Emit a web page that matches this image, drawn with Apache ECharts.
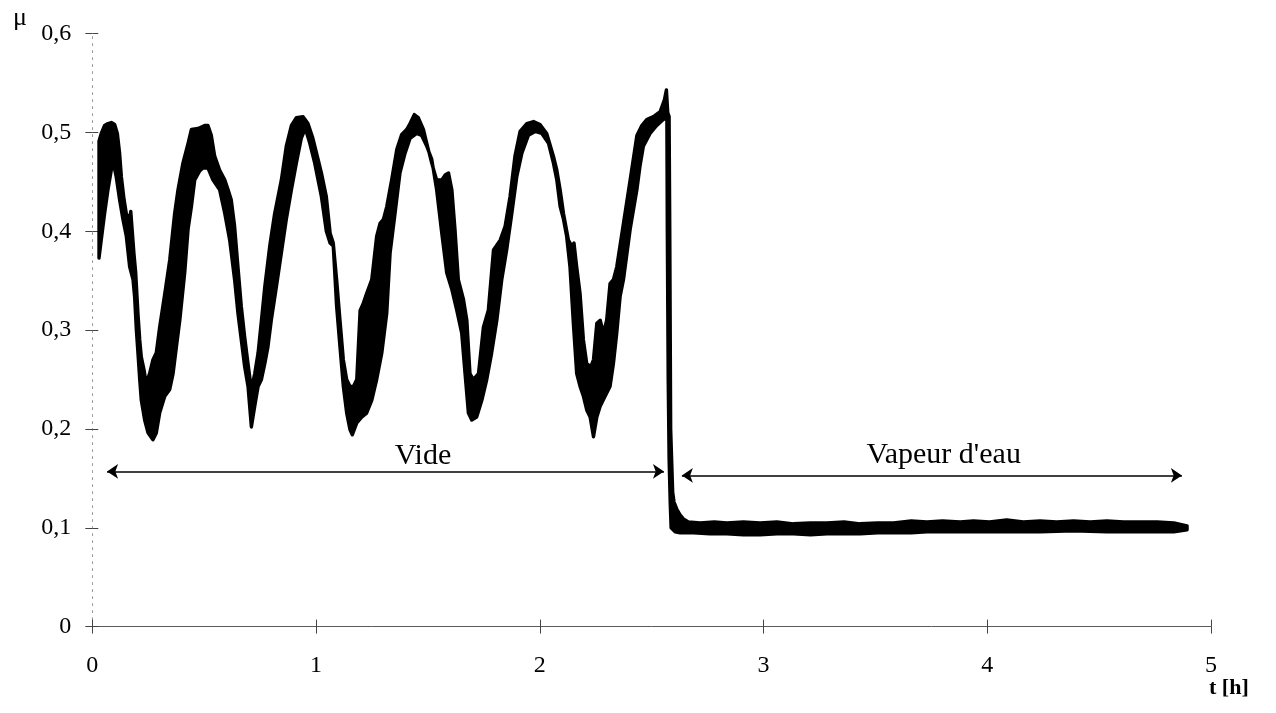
<!DOCTYPE html>
<html>
<head>
<meta charset="utf-8">
<script src="https://cdn.jsdelivr.net/npm/echarts@6/dist/echarts.min.js"></script>
<style>
html,body{margin:0;padding:0;background:#fff;}
#chart{width:1276px;height:713px;}
</style>
</head>
<body>
<div id="chart"></div>
<script>
// x ticks (hours) and y ticks (friction coefficient)
const xTickLabels = ['0', '1', '2', '3', '4', '5'];
const yTickLabels = ['0', '0,1', '0,2', '0,3', '0,4', '0,5', '0,6'];

// Upper outline of the noisy friction band [t (h), mu]
const upperEdge = [
[0.030,0.491],[0.040,0.499],[0.055,0.507],[0.070,0.509],[0.085,0.510],[0.100,0.508],[0.112,0.499],[0.122,0.479],
[0.130,0.455],[0.142,0.432],[0.152,0.418],[0.167,0.412],[0.172,0.420],[0.177,0.405],[0.186,0.378],[0.194,0.358],
[0.204,0.317],[0.212,0.290],[0.219,0.273],[0.231,0.260],[0.241,0.246],[0.256,0.256],[0.271,0.270],[0.286,0.277],
[0.301,0.303],[0.324,0.337],[0.346,0.371],[0.368,0.418],[0.383,0.442],[0.405,0.469],[0.428,0.489],[0.443,0.503],
[0.473,0.504],[0.502,0.507],[0.517,0.507],[0.532,0.497],[0.547,0.476],[0.569,0.462],[0.592,0.452],[0.607,0.442],
[0.621,0.432],[0.636,0.405],[0.651,0.364],[0.666,0.324],[0.681,0.293],[0.696,0.266],[0.711,0.240],[0.726,0.256],
[0.741,0.277],[0.756,0.310],[0.771,0.344],[0.793,0.385],[0.815,0.418],[0.845,0.452],[0.867,0.486],[0.890,0.507],
[0.912,0.515],[0.942,0.516],[0.964,0.509],[0.986,0.494],[1.009,0.473],[1.024,0.459],[1.046,0.435],[1.063,0.398],
[1.077,0.388],[1.092,0.351],[1.107,0.310],[1.122,0.270],[1.137,0.250],[1.152,0.243],[1.167,0.243],[1.182,0.250],
[1.197,0.320],[1.211,0.327],[1.226,0.337],[1.249,0.351],[1.271,0.395],[1.286,0.408],[1.301,0.412],[1.316,0.425],
[1.338,0.452],[1.361,0.483],[1.383,0.498],[1.405,0.503],[1.420,0.509],[1.439,0.518],[1.457,0.515],[1.480,0.503],
[1.495,0.489],[1.517,0.469],[1.539,0.452],[1.562,0.452],[1.577,0.457],[1.592,0.459],[1.607,0.442],[1.621,0.402],
[1.636,0.351],[1.659,0.331],[1.674,0.310],[1.688,0.256],[1.703,0.250],[1.726,0.256],[1.748,0.303],[1.770,0.320],
[1.793,0.381],[1.823,0.391],[1.845,0.405],[1.867,0.435],[1.889,0.476],[1.912,0.501],[1.942,0.509],[1.972,0.511],
[2.001,0.508],[2.031,0.499],[2.061,0.476],[2.076,0.462],[2.091,0.442],[2.106,0.418],[2.128,0.391],[2.143,0.385],
[2.153,0.388],[2.165,0.364],[2.180,0.337],[2.195,0.290],[2.210,0.266],[2.228,0.263],[2.240,0.270],[2.255,0.307],
[2.270,0.310],[2.285,0.297],[2.299,0.310],[2.314,0.347],[2.329,0.351],[2.344,0.364],[2.374,0.408],[2.404,0.452],
[2.434,0.497],[2.456,0.507],[2.478,0.513],[2.508,0.516],[2.538,0.521],[2.557,0.533],[2.566,0.543],[2.572,0.520],
[2.578,0.516],[2.581,0.400],[2.585,0.200],[2.594,0.136],[2.600,0.126],[2.612,0.119],[2.627,0.113],[2.642,0.109],
[2.664,0.106],[2.717,0.105],[2.780,0.106],[2.836,0.105],[2.910,0.106],[2.985,0.105],[3.060,0.106],[3.134,0.104],
[3.210,0.105],[3.284,0.105],[3.360,0.106],[3.432,0.104],[3.510,0.105],[3.581,0.105],[3.660,0.107],[3.730,0.106],
[3.800,0.107],[3.879,0.106],[3.938,0.107],[4.010,0.106],[4.087,0.108],[4.161,0.106],[4.236,0.107],[4.310,0.106],
[4.386,0.107],[4.460,0.106],[4.535,0.107],[4.610,0.106],[4.684,0.106],[4.760,0.106],[4.834,0.105],[4.893,0.102]
];

// Lower outline of the noisy friction band [t (h), mu]
const lowerEdge = [
[0.030,0.373],[0.040,0.391],[0.055,0.418],[0.070,0.442],[0.085,0.462],[0.096,0.467],[0.107,0.455],[0.122,0.432],
[0.137,0.412],[0.152,0.395],[0.167,0.364],[0.182,0.351],[0.189,0.334],[0.197,0.300],[0.204,0.277],[0.212,0.250],
[0.219,0.229],[0.234,0.209],[0.249,0.196],[0.271,0.189],[0.286,0.196],[0.301,0.216],[0.324,0.233],[0.346,0.240],
[0.361,0.256],[0.376,0.283],[0.391,0.310],[0.413,0.358],[0.428,0.402],[0.443,0.425],[0.458,0.452],[0.480,0.461],
[0.495,0.464],[0.517,0.464],[0.539,0.452],[0.569,0.442],[0.592,0.418],[0.614,0.391],[0.636,0.351],[0.651,0.317],
[0.666,0.290],[0.681,0.263],[0.696,0.243],[0.711,0.202],[0.726,0.223],[0.741,0.243],[0.756,0.250],[0.771,0.266],
[0.785,0.283],[0.800,0.310],[0.823,0.344],[0.845,0.378],[0.867,0.412],[0.890,0.442],[0.912,0.469],[0.934,0.494],
[0.952,0.504],[0.972,0.489],[0.994,0.469],[1.009,0.452],[1.024,0.435],[1.046,0.400],[1.063,0.388],[1.077,0.385],
[1.092,0.324],[1.107,0.283],[1.122,0.243],[1.137,0.216],[1.152,0.199],[1.162,0.194],[1.182,0.206],[1.204,0.212],
[1.226,0.216],[1.249,0.229],[1.271,0.250],[1.294,0.277],[1.316,0.317],[1.331,0.378],[1.353,0.418],[1.375,0.459],
[1.398,0.479],[1.420,0.494],[1.450,0.499],[1.472,0.497],[1.495,0.486],[1.517,0.473],[1.539,0.442],[1.562,0.398],
[1.584,0.358],[1.607,0.341],[1.629,0.320],[1.651,0.297],[1.666,0.256],[1.681,0.216],[1.696,0.209],[1.718,0.212],
[1.741,0.229],[1.763,0.250],[1.785,0.277],[1.808,0.310],[1.830,0.351],[1.852,0.381],[1.875,0.418],[1.897,0.455],
[1.920,0.479],[1.949,0.497],[1.979,0.501],[2.009,0.499],[2.039,0.489],[2.061,0.469],[2.076,0.452],[2.091,0.425],
[2.106,0.412],[2.120,0.395],[2.135,0.364],[2.150,0.307],[2.165,0.256],[2.180,0.243],[2.195,0.233],[2.210,0.219],
[2.225,0.212],[2.240,0.192],[2.255,0.212],[2.270,0.223],[2.292,0.233],[2.314,0.243],[2.329,0.266],[2.344,0.297],
[2.359,0.334],[2.374,0.351],[2.404,0.402],[2.434,0.442],[2.448,0.466],[2.463,0.486],[2.493,0.499],[2.523,0.507],
[2.552,0.513],[2.568,0.515],[2.570,0.400],[2.574,0.250],[2.578,0.170],[2.583,0.125],[2.587,0.100],[2.605,0.096],
[2.627,0.095],[2.687,0.095],[2.760,0.094],[2.836,0.094],[2.910,0.093],[2.985,0.093],[3.060,0.094],[3.134,0.094],
[3.210,0.093],[3.284,0.094],[3.360,0.094],[3.432,0.094],[3.510,0.095],[3.581,0.095],[3.660,0.095],[3.730,0.096],
[3.800,0.096],[3.879,0.096],[3.938,0.096],[4.087,0.096],[4.236,0.096],[4.386,0.097],[4.535,0.096],[4.684,0.096],
[4.834,0.096],[4.893,0.098]
];

// Double-headed period arrows: [tStart, tEnd, mu]
const arrowSpans = [[0.066, 2.555, 0.157], [2.635, 4.870, 0.153]];
// Period labels: [text, t, mu]
const periodLabels = [['Vide', 1.478, 0.172], ["Vapeur d'eau", 3.805, 0.174]];

const SERIF = '"Liberation Serif", "DejaVu Serif", serif';
const chart = echarts.init(document.getElementById('chart'), null, {renderer: 'canvas'});

const outline = upperEdge.concat(lowerEdge.slice().reverse());

const baseX = {
  type: 'value', min: 0, max: 5, interval: 1, gridIndex: 0, position: 'bottom',
  splitLine: {show: false}
};
const baseY = {
  type: 'value', min: 0, max: 0.6, interval: 0.1, gridIndex: 0, position: 'left',
  splitLine: {show: false}
};

const option = {
  animation: false,
  backgroundColor: '#ffffff',
  grid: {left: 92.3, right: 65, top: 33.6, bottom: 86.4, containLabel: false},
  xAxis: [
    Object.assign({}, baseX, {
      axisLine: {show: true, lineStyle: {color: '#5a5a5a', width: 1}},
      axisTick: {show: true, inside: false, length: 7, lineStyle: {color: '#444', width: 1}},
      axisLabel: {show: true, margin: 27, fontFamily: SERIF, fontSize: 24, color: '#000',
        formatter: (v, i) => xTickLabels[i]}
    }),
    Object.assign({}, baseX, {
      axisLine: {show: false},
      axisTick: {show: true, inside: true, length: 7, lineStyle: {color: '#444', width: 1}},
      axisLabel: {show: false}
    })
  ],
  yAxis: [
    Object.assign({}, baseY, {
      axisLine: {show: true, lineStyle: {color: '#9a9a9a', width: 1, type: [2, 5]}},
      axisTick: {show: true, inside: false, length: 7, lineStyle: {color: '#444', width: 1}},
      axisLabel: {show: true, margin: 21, fontFamily: SERIF, fontSize: 24, color: '#000',
        formatter: (v, i) => yTickLabels[i]}
    }),
    Object.assign({}, baseY, {
      axisLine: {show: false},
      axisTick: {show: true, inside: true, length: 6, lineStyle: {color: '#444', width: 1}},
      axisLabel: {show: false}
    })
  ],
  graphic: [
    {type: 'text', left: 13, top: 5, style: {text: 'μ', font: '26px ' + SERIF, fill: '#000'}},
    {type: 'text', left: 1209, top: 677, style: {text: 't [h]', font: 'bold 22px ' + SERIF, fill: '#000'}}
  ],
  series: [
    {
      type: 'custom',
      name: 'mu',
      xAxisIndex: 0, yAxisIndex: 0,
      data: [outline[0]],
      clip: true,
      renderItem: function (params, api) {
        const pts = outline.map(p => api.coord(p));
        return {
          type: 'polygon',
          shape: {points: pts},
          style: {fill: '#000', stroke: '#000', lineWidth: 3.4, lineJoin: 'round'}
        };
      }
    },
    {
      type: 'custom',
      name: 'labels',
      xAxisIndex: 0, yAxisIndex: 0,
      data: periodLabels.map(p => [p[1], p[2]]),
      renderItem: function (params, api) {
        const c = api.coord([api.value(0), api.value(1)]);
        return {
          type: 'text',
          x: c[0], y: c[1],
          style: {text: periodLabels[params.dataIndex][0], font: '30px ' + SERIF,
            fill: '#000', align: 'center', verticalAlign: 'middle'}
        };
      },
      markLine: {
        silent: true,
        symbol: ['arrow', 'arrow'],
        symbolSize: [11, 11],
        label: {show: false},
        lineStyle: {color: '#000', width: 1.6, type: 'solid'},
        data: arrowSpans.map(a => [{coord: [a[0], a[2]]}, {coord: [a[1], a[2]]}])
      }
    }
  ]
};
chart.setOption(option);
</script>
</body>
</html>
